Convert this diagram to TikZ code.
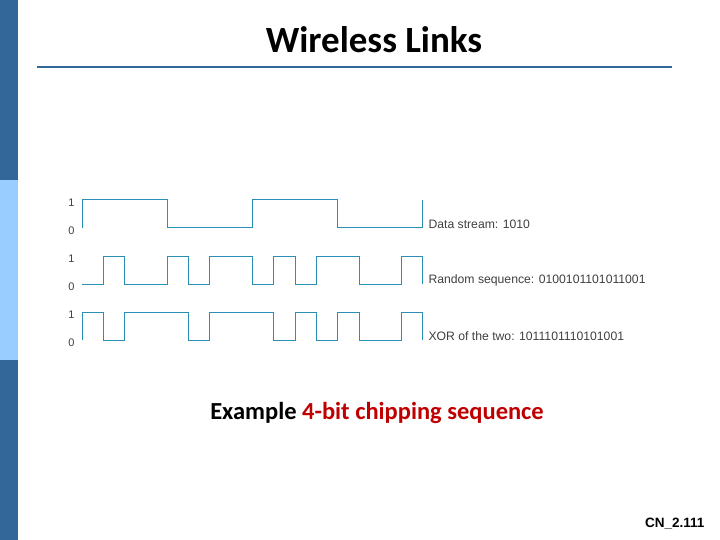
\documentclass[tikz,border=0pt]{standalone}
\usepackage{fontspec}
\setmainfont{Liberation Sans}
\newfontfamily\calfont{Carlito}
\newcommand\mywave[3]{% top y, bottom y, bits
  \xdef\prevb{-1}%
  \foreach \b [count=\i from 0] in {#3} {
    \pgfmathsetmacro\yy{\b==1 ? #1 : #2}
    \draw[wave,line cap=rect] ({82+\i*\cw},\yy) -- ({82+(\i+1)*\cw},\yy);
    \ifnum\prevb=-1\relax\else\ifnum\prevb=\b\relax\else
      \draw[wave] ({82+\i*\cw},#1) -- ({82+\i*\cw},#2);\fi\fi
    \xdef\prevb{\b}
  }%
  \draw[wave] ({82+16*\cw},#1) -- ({82+16*\cw},#2);
}
\begin{document}
\begin{tikzpicture}[x=1pt,y=-1pt,
  wave/.style={draw=wv,line width=1pt},
  lev/.style={font=\fontsize{11}{12}\selectfont,text=black!75,anchor=east},
  lab/.style={font=\fontsize{12.2}{14}\selectfont,text=black!75,anchor=west}]
\definecolor{wv}{HTML}{2A8FB5}
\definecolor{bar}{HTML}{336699}
\definecolor{lbar}{HTML}{99CCFF}
\definecolor{rd}{HTML}{C00000}
\def\cw{21.31}
\useasboundingbox (0,0) rectangle (720,540);
\fill[white] (0,0) rectangle (720,540);
\fill[bar] (0,0) rectangle (18,180);
\fill[lbar] (0,180) rectangle (18,360);
\fill[bar] (0,360) rectangle (18,540);
\node[font=\calfont\bfseries\fontsize{37}{40}\selectfont] (t) at (374,40) {Wireless Links};
\draw[bar,line width=2.5pt] (37,67) -- (672,67);
\draw[wave] (82,228) -- (82,200);
\mywave{200}{228}{1,1,1,1,0,0,0,0,1,1,1,1,0,0,0,0}
\mywave{256}{284}{0,1,0,0,1,0,1,1,0,1,0,1,1,0,0,1}
\draw[wave] (82,340) -- (82,312);
\mywave{312}{340}{1,0,1,1,1,0,1,1,1,0,1,0,1,0,0,1}
\foreach \y/\n in {200/1,228/0,256/1,284/0,312/1,340/0} \node[lev] at (78,{\y+3}) {\n};
\node[lab] (d) at (425,224) {Data stream: 1010};
\node[lab] (r) at (425,280) {Random sequence: 0100101101011001};
\node[lab] (x) at (425,336) {XOR of the two: 1011101110101001};
\node[font=\calfont\bfseries\fontsize{24.5}{28}\selectfont] (c) at (377,413) {Example \textcolor{rd}{4-bit chipping sequence}};
\node[font=\bfseries\fontsize{13.5}{15}\selectfont,anchor=east] (p) at (708,524) {CN\_2.111};
\end{tikzpicture}
\end{document}
